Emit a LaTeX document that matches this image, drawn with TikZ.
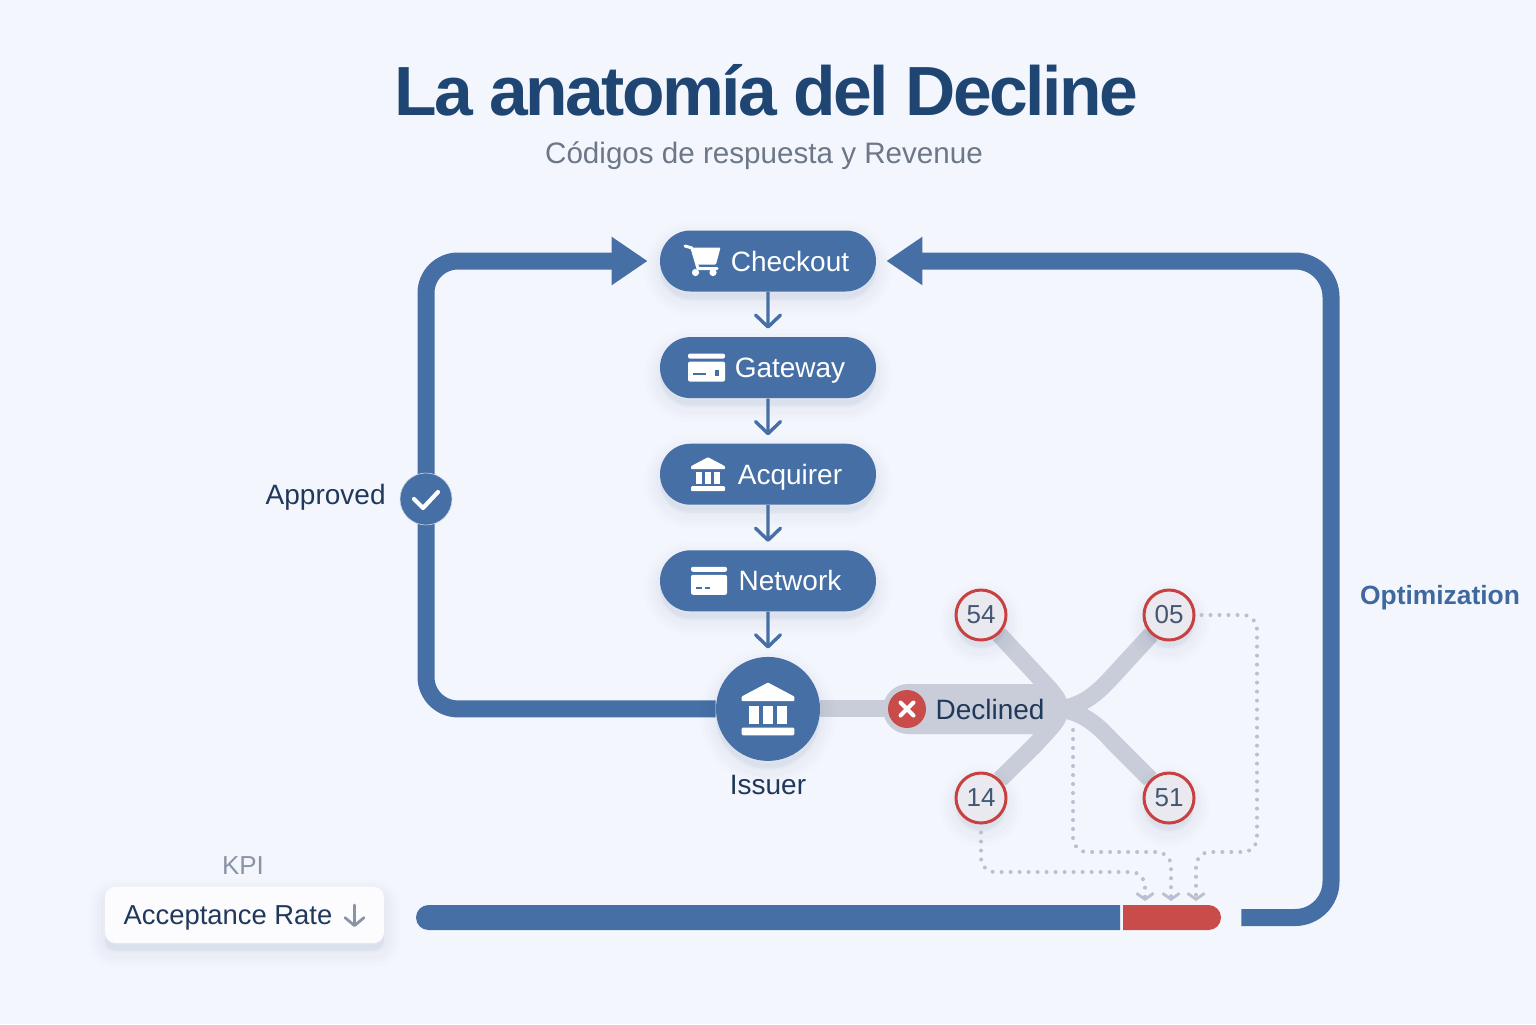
\documentclass[tikz,border=0pt]{standalone}
\usepackage{fontspec}
\setmainfont{Liberation Sans}
\newfontfamily\titlefont[LetterSpace=-3.7]{Liberation Sans}
\usepackage{xcolor}
\usetikzlibrary{arrows.meta, positioning, calc, shapes.misc, shadows, backgrounds}

\definecolor{pagebg}{HTML}{F4F6FD}
\definecolor{flowblue}{HTML}{456FA5}
\definecolor{titleblue}{HTML}{1F4573}
\definecolor{inkblue}{HTML}{20395A}
\definecolor{softgrey}{HTML}{C9CDD9}
\definecolor{dotgrey}{HTML}{BAC0D0}
\definecolor{alertred}{HTML}{C94C4B}
\definecolor{ringred}{HTML}{C8403F}
\definecolor{codefill}{HTML}{E9E9EF}
\definecolor{mutedgrey}{HTML}{8B94A4}
\definecolor{subgrey}{HTML}{6C7788}
\definecolor{shadowblue}{HTML}{3A5688}

\tikzset{
  softshadow/.style={
    drop shadow={shadow xshift=0pt, shadow yshift=-4pt, opacity=.012, fill=shadowblue, draw=shadowblue, line width=16pt},
    drop shadow={shadow xshift=0pt, shadow yshift=-4pt, opacity=.014, fill=shadowblue, draw=shadowblue, line width=12pt},
    drop shadow={shadow xshift=0pt, shadow yshift=-4pt, opacity=.016, fill=shadowblue, draw=shadowblue, line width=8pt},
    drop shadow={shadow xshift=0pt, shadow yshift=-3pt, opacity=.018, fill=shadowblue, draw=shadowblue, line width=4pt}},
  bankicon/.pic={
    \fill[white, rounded corners=.4pt] (0,-17) -- (17,-8) -- (17,-5) -- (-17,-5) -- (-17,-8) -- cycle;
    \foreach \colx in {-9,0,9}
      \fill[white] (\colx-3,-2) rectangle (\colx+3,10);
    \fill[white, rounded corners=.6pt] (-17,12) rectangle (17,17);
  },
  gatewaycard/.pic={
    \fill[white, rounded corners=1pt] (-18.5,-14) rectangle (18.5,-9);
    \fill[white, rounded corners=1pt] (-18.5,-6) rectangle (18.5,14);
    \draw[flowblue, line width=1pt] (-13.5,6.5) -- (-1,6.5);
    \fill[flowblue] (8.5,2) rectangle (12.5,8);
  },
  networkcard/.pic={
    \fill[white, rounded corners=1pt] (-18,-14) rectangle (18,-9);
    \fill[white, rounded corners=1pt] (-18,-6) rectangle (18,14);
    \draw[flowblue, line width=1pt] (-13,7) -- (-7,7) (-4,7) -- (1,7);
  },
  carticon/.pic={
    \draw[white, line width=1.5pt, line join=round, line cap=round] (-18,-15) -- (-11,-13) -- (-5,7.5) -- (14,7.5);
    \fill[white, rounded corners=.5pt] (-10,-13.5) -- (17.5,-13.5) -- (13,3.5) -- (-5.5,3.5) -- cycle;
    \fill[white] (-7.5,11.5) circle (3.6) (10,11.5) circle (3.6);
  }
}

\begin{document}
\begin{tikzpicture}[
  x=.5pt, y=-.5pt,
  node distance=22.4pt,
  pill/.style={rounded rectangle, fill=flowblue, text=white, minimum width=108pt, minimum height=30.5pt, inner sep=0pt, text height=10pt, text depth=0pt, font=\fontsize{14}{16}\selectfont, execute at begin node={\hspace*{22pt}}, softshadow},
  codenode/.style={circle, draw=ringred, line width=1.5pt, fill=codefill, text=inkblue!85, minimum size=25pt, inner sep=0pt, font=\fontsize{13}{15}\selectfont, softshadow},
  flowstep/.style={flowblue, line width=1.7pt, shorten >=4pt, -{Straight Barb[length=6pt,width=12.5pt,round]}},
  bigflow/.style={flowblue, line width=8.5pt, -{Triangle[length=18pt,width=23pt]}},
  branch/.style={softgrey, line width=8.5pt},
  dotflow/.style={dotgrey, line width=2pt, line cap=round, dash pattern=on 0pt off 4.5pt, rounded corners=7pt, -{Straight Barb[length=3pt,width=8.5pt,line width=1.4pt]}},
  plaintext/.style={inner sep=0pt, text=inkblue, text height=10pt, text depth=0pt, font=\fontsize{14}{16}\selectfont}
]
\begin{scope}[on background layer]
\fill[pagebg] (0,0) rectangle (1536,1024);
\end{scope}
\useasboundingbox (0,0) rectangle (1536,1024);

\node[inner sep=0pt, text=titleblue, text height=25pt, text depth=0pt, font=\fontsize{34.8}{40}\titlefont\bfseries\selectfont] (title) at (766,90) {La anatomía del Decline};
\node[inner sep=0pt, text=subgrey, text height=10.6pt, text depth=0pt, font=\fontsize{14.8}{17}\selectfont] (subtitle) at (764,152.5) {Códigos de respuesta y Revenue};

% payment chain
\node[pill] (checkout) at (768,261) {Checkout};
\node[pill, below=of checkout] (gateway) {Gateway};
\node[pill, below=of gateway] (acquirer) {Acquirer};
\node[pill, below=of acquirer] (network) {Network};
\node[circle, fill=flowblue, minimum size=52pt, inner sep=0pt, softshadow, below=22.4pt of network] (issuer) {};
\node[plaintext, below=6.5pt of issuer] (issuerlabel) {Issuer};

\pic at ($(checkout)+(-65,0)$) {carticon};
\pic at ($(gateway)+(-61.5,0)$) {gatewaycard};
\pic at ($(acquirer)+(-60,0)$) {bankicon};
\pic at ($(network)+(-59,0)$) {networkcard};
\pic[scale=1.55] at (issuer) {bankicon};

\draw[flowstep] (checkout) -- (gateway);
\draw[flowstep] (gateway) -- (acquirer);
\draw[flowstep] (acquirer) -- (network);
\draw[flowstep] (network) -- (issuer);

% approved
\node[circle, fill=flowblue, draw=white!70!flowblue, line width=.3pt, minimum size=26pt, inner sep=0pt] (approved) at (426,499) {};
\node[plaintext, anchor=east] (approvedlabel) at (386,494) {Approved};
\draw[white, line width=2.1pt, line cap=round, line join=round] ($(approved)+(-12,0)$) -- ($(approved)+(-3,9)$) -- ($(approved)+(12,-7)$);

% declined
\node[rounded rectangle, fill=softgrey, text=inkblue, minimum width=88pt, minimum height=25pt, inner sep=0pt, text height=10pt, text depth=0pt, font=\fontsize{14}{16}\selectfont, execute at begin node={\hspace*{19pt}}] (declined) at (971,709) {Declined};
\node[circle, fill=alertred, minimum size=19pt, inner sep=0pt] (declinedmark) at (907,709) {};
\draw[white, line width=2pt, line cap=round] ($(declinedmark)+(-6.5,-6.5)$) -- ($(declinedmark)+(6.5,6.5)$) ($(declinedmark)+(-6.5,6.5)$) -- ($(declinedmark)+(6.5,-6.5)$);

\node[codenode] (code54) at (981,615) {54};
\node[codenode] (code05) at (1169,615) {05};
\node[codenode] (code14) at (981,798) {14};
\node[codenode] (code51) at (1169,798) {51};

% kpi
\node[inner sep=0pt, text=mutedgrey, font=\fontsize{13}{15}\selectfont] (kpi) at (243,866) {KPI};
\node[rectangle, fill=white!70!pagebg, rounded corners=5pt, minimum width=139.5pt, minimum height=28pt, inner sep=0pt, text=inkblue, text height=9.8pt, text depth=0pt, font=\fontsize{13.7}{16}\selectfont, softshadow, execute at begin node={\hspace*{-16.5pt}}] (acceptance) at (244.5,915) {Acceptance Rate};
\draw[mutedgrey, line width=1.4pt, line cap=round, -{Straight Barb[length=4pt,width=9.5pt,round]}] ($(acceptance)+(110,-10)$) -- ($(acceptance)+(110,12)$);

% bar
\node[rounded rectangle, rounded rectangle right arc=none, fill=flowblue, minimum width=352pt, minimum height=12.5pt, inner sep=0pt] (barblue) at (768,917.5) {};
\node[rounded rectangle, rounded rectangle left arc=none, fill=alertred, minimum width=49pt, minimum height=12.5pt, inner sep=0pt] (barred) at (1172,917.5) {};

\node[inner sep=0pt, text=flowblue!85!titleblue, text height=9.5pt, text depth=0pt, font=\fontsize{13.2}{16}\bfseries\selectfont] (optimization) at (1440,595) {Optimization};

\begin{scope}[on background layer]
\draw[bigflow, rounded corners=16pt, shorten >=6pt] (issuer.west) -- (issuer.west -| 426,0) -- (426,261) -- (checkout.west);
\draw[bigflow, rounded corners=18pt, shorten <=10pt, shorten >=5pt] (barred.east) -- (1331,917.5) -- (1331,261) -- (checkout.east);
\draw[branch] (issuer) -- (issuer -| declined);
\draw[branch] (code54) -- (1035,673) .. controls (1052,692) and (1060,698) .. (declined.east);
\draw[branch] (code14) -- (1035,745) .. controls (1052,726) and (1060,720) .. (declined.east);
\draw[branch] (code05) -- (1112,677) .. controls (1094,697) and (1080,706) .. (declined.east);
\draw[branch] (code51) -- (1112,741) .. controls (1094,721) and (1080,712) .. (declined.east);
\end{scope}

% dotted paths to the bar
\coordinate (dropstart) at (1073,730);
\coordinate (hitA) at (1145,901);
\coordinate (hitB) at (1171,901);
\coordinate (hitC) at (1196,901);
\draw[dotflow, shorten <=4pt] (code14.south) -- (981,872) -- (1145,872) -- (hitA);
\draw[dotflow] (dropstart) -- (1073,852) -- (1171,852) -- (hitB);
\draw[dotflow, shorten <=3pt] (code05.east) -- (1257,615) -- (1257,852) -- (1196,852) -- (hitC);
\end{tikzpicture}
\end{document}
